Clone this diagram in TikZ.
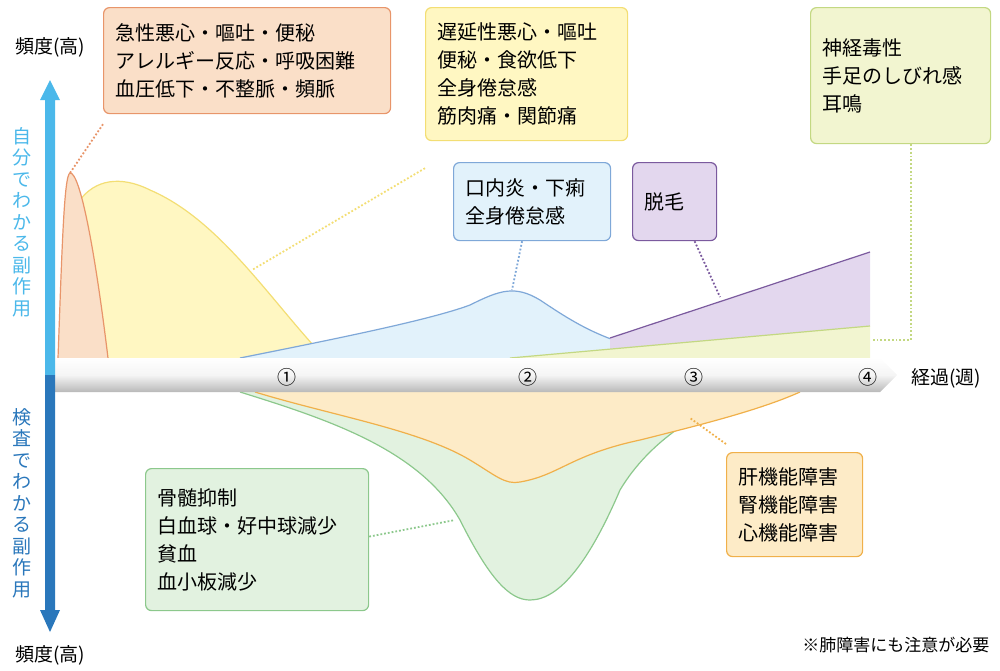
\documentclass[tikz,border=0pt]{standalone}
\usepackage{fontspec}
\setmainfont{Noto Sans CJK JP}
\usetikzlibrary{arrows.meta}
\definecolor{obox}{HTML}{FADFC8}\definecolor{oline}{HTML}{E8956A}
\definecolor{ybox}{HTML}{FFF7C2}\definecolor{yline}{HTML}{F3DE74}
\definecolor{gbox}{HTML}{F2F5D0}\definecolor{gline}{HTML}{C3D882}
\definecolor{bbox}{HTML}{E2F2FB}\definecolor{bline}{HTML}{7FA8D8}
\definecolor{pbox}{HTML}{E3D7EE}\definecolor{pline}{HTML}{7B5A9E}
\definecolor{g2box}{HTML}{E2F2E0}\definecolor{g2line}{HTML}{8CC88C}
\definecolor{o2box}{HTML}{FDEBC7}\definecolor{o2line}{HTML}{F0B04A}
\definecolor{lblue}{HTML}{4BB8EA}\definecolor{dblue}{HTML}{2A77BB}
\tikzset{box/.style={rounded corners=6pt,line width=1.2pt,align=left,anchor=north west,inner xsep=12pt,inner ysep=13pt,font=\fontsize{20}{28}\selectfont},
 conn/.style={dotted,line width=1.8pt}}
\begin{document}
\begin{tikzpicture}[x=1pt,y=-1pt]
\useasboundingbox (0,0) rectangle (1000,670);
% upper curves
\fill[ybox] (80,358) -- (80,200) .. controls (95,180) and (120,175) .. (150,190) .. controls (220,220) and (270,300) .. (325,358) -- cycle;
\draw[yline,line width=1.2pt] (80,200) .. controls (95,180) and (120,175) .. (150,190) .. controls (220,220) and (270,300) .. (325,358);
\fill[obox] (58,358) .. controls (62,250) and (64,175) .. (70,173) .. controls (80,172) and (95,250) .. (108,358) -- cycle;
\draw[oline,line width=1.2pt] (58,358) .. controls (62,250) and (64,175) .. (70,173) .. controls (80,172) and (95,250) .. (108,358);
\fill[bbox] (240,358) .. controls (330,340) and (430,320) .. (470,305) .. controls (500,290) and (515,285) .. (540,300) .. controls (570,320) and (600,340) .. (650,350) -- (650,358) -- cycle;
\draw[bline,line width=1.2pt] (240,358) .. controls (330,340) and (430,320) .. (470,305) .. controls (500,290) and (515,285) .. (540,300) .. controls (570,320) and (600,340) .. (650,350);
\fill[gbox] (510,358) -- (870,326) -- (870,358) -- cycle;
\fill[pbox] (610,338) -- (870,252) -- (870,326) -- (610,349) -- cycle;
\draw[pline,line width=1.2pt] (610,338) -- (870,252);
\draw[gline,line width=1.2pt] (510,358) -- (870,326);
% lower curves
\fill[g2box] (240,392) .. controls (330,420) and (420,450) .. (460,520) .. controls (490,580) and (510,600) .. (530,600) .. controls (560,600) and (590,560) .. (620,490) .. controls (650,440) and (700,410) .. (750,392) -- cycle;
\draw[g2line,line width=1.2pt] (240,392) .. controls (330,420) and (420,450) .. (460,520) .. controls (490,580) and (510,600) .. (530,600) .. controls (560,600) and (590,560) .. (620,490) .. controls (650,440) and (700,410) .. (750,392);
\fill[o2box] (255,392) .. controls (330,415) and (420,430) .. (470,460) .. controls (495,475) and (505,485) .. (520,482) .. controls (560,475) and (570,455) .. (640,440) .. controls (700,425) and (760,410) .. (800,392) -- cycle;
\draw[o2line,line width=1.2pt] (255,392) .. controls (330,415) and (420,430) .. (470,460) .. controls (495,475) and (505,485) .. (520,482) .. controls (560,475) and (570,455) .. (640,440) .. controls (700,425) and (760,410) .. (800,392);
% axis bar
\shade[top color=white,bottom color=gray!55,middle color=gray!8] (55,358) -- (880,358) -- (897,375) -- (880,392) -- (55,392) -- cycle;
\foreach \x/\t in {287/①,528/②,694/③,868/④}
  \node[font=\fontsize{19}{19}\selectfont] (n\t) at (\x,377) {\t};
\node[font=\fontsize{19}{19}\selectfont,anchor=west] (keika) at (908,378) {経過(週)};
% vertical arrow
\fill[lblue] (45,375) -- (45,100) -- (40,100) -- (50,80) -- (60,100) -- (55,100) -- (55,375) -- cycle;
\fill[dblue] (45,375) -- (45,610) -- (40,610) -- (50,632) -- (60,610) -- (55,610) -- (55,375) -- cycle;
\node[font=\fontsize{19}{19}\selectfont] (h1) at (50,47) {頻度(高)};
\node[font=\fontsize{19}{19}\selectfont] (h2) at (50,655) {頻度(高)};
\node[lblue,align=center,font=\fontsize{19}{21.5}\selectfont] (v1) at (22,222) {自\\分\\で\\わ\\か\\る\\副\\作\\用};
\node[dblue,align=center,font=\fontsize{19}{21.5}\selectfont] (v2) at (22,503) {検\\査\\で\\わ\\か\\る\\副\\作\\用};
% boxes
\node[box,draw=oline,fill=obox,text width=263pt,minimum height=106pt] (b1) at (103,7) {急性悪心・嘔吐・便秘\\アレルギー反応・呼吸困難\\血圧低下・不整脈・頻脈};
\node[box,draw=yline,fill=ybox,text width=178pt,minimum height=133pt] (b2) at (425,7) {遅延性悪心・嘔吐\\便秘・食欲低下\\全身倦怠感\\筋肉痛・関節痛};
\node[box,draw=gline,fill=gbox,text width=156pt,minimum height=136pt] (b3) at (810,7) {神経毒性\\手足のしびれ感\\耳鳴};
\node[box,draw=bline,fill=bbox,text width=133pt,minimum height=78pt] (b4) at (453,162) {口内炎・下痢\\全身倦怠感};
\node[box,draw=pline,fill=pbox,text width=60pt,minimum height=78pt] (b5) at (632,162) {脱毛};
\node[box,draw=g2line,fill=g2box,text width=199pt,minimum height=142pt] (b6) at (145,468) {骨髄抑制\\白血球・好中球減少\\貧血\\血小板減少};
\node[box,draw=o2line,fill=o2box,text width=112pt,minimum height=104pt] (b7) at (726,452) {肝機能障害\\腎機能障害\\心機能障害};
% connectors
\coordinate (p1) at (70,173); \coordinate (p2) at (252,270); \coordinate (p3) at (512,290);
\coordinate (p4) at (720,297); \coordinate (p5) at (873,340);
\coordinate (p6) at (455,520); \coordinate (p7) at (690,418);
\draw[conn,oline] ([yshift=-10pt]b1.south west) -- (p1);
\draw[conn,yline] ([yshift=-27pt]b2.south west) -- (p2);
\draw[conn,bline] ([xshift=-10pt]b4.south) -- (p3);
\draw[conn,pline] ([xshift=20pt]b5.south) -- (p4);
\draw[conn,gline] ([xshift=10pt]b3.south) |- (p5);
\draw[conn,g2line] ([yshift=3pt]b6.east) -- (p6);
\draw[conn,o2line] ([yshift=8pt]b7.north west) -- (p7);
\node[font=\fontsize{17}{17}\selectfont,anchor=east] (note) at (993,645) {※肺障害にも注意が必要};
\end{tikzpicture}
\end{document}
